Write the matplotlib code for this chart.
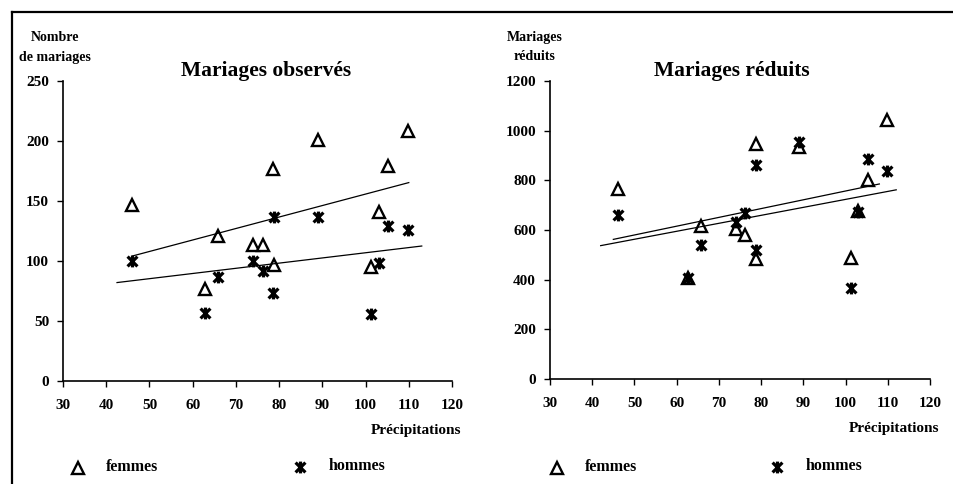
import numpy as np
import matplotlib.pyplot as plt
from matplotlib.path import Path

# Precipitation values (x) shared by both panels
precip = [46, 62.8, 65.8, 74, 76.3, 78.7, 78.8, 89, 101.3, 103, 105.2, 109.8]

# Observed marriages
obs_femmes = [147, 77, 121, 113, 113, 177, 97, 201, 95, 141, 179, 208]
obs_hommes = [100, 57, 87, 100, 92, 73, 137, 137, 56, 98, 129, 126]

# Reduced marriages
red_femmes = [765, 405, 616, 605, 580, 946, 485, 935, 487, 675, 801, 1043]
red_hommes = [660, 407, 540, 633, 670, 860, 520, 955, 366, 673, 885, 838]

x_ticks = [30, 40, 50, 60, 70, 80, 90, 100, 110, 120]
x_tick_labels = ['30', '40', '50', '60', '70', '80', '90', '100', '110', '120']

SERIF = 'Liberation Serif'
W, H = 954, 484

# star marker: an X with a vertical bar
star = Path([(-1, -1), (1, 1), (-1, 1), (1, -1), (0, -1.2), (0, 1.2)],
            [Path.MOVETO, Path.LINETO, Path.MOVETO, Path.LINETO, Path.MOVETO, Path.LINETO])

fig = plt.figure(figsize=(9.54, 4.84), dpi=100)

# outer frame (top and left edges)
fig.add_artist(plt.Line2D([12 / W, 1], [1 - 12 / H, 1 - 12 / H], color='black', lw=1.6))
fig.add_artist(plt.Line2D([12 / W, 12 / W], [0, 1 - 12 / H], color='black', lw=1.6))


def panel(rect, fem, hom, ylim, yticks, title, title_x, ylabel, ylabel_x,
          fem_range, hom_range, legend_x):
    ax = fig.add_axes(rect)
    ax.plot(precip, fem, linestyle='none', marker='^', markersize=8,
            markerfacecolor='white', markeredgecolor='black', markeredgewidth=1.7)
    ax.plot(precip, hom, linestyle='none', marker=star, markersize=8.5,
            color='black', markeredgewidth=2.3)

    # linear trend lines
    for vals, xr in ((fem, fem_range), (hom, hom_range)):
        a, b = np.polyfit(precip, vals, 1)
        xs = np.array(xr)
        ax.plot(xs, a * xs + b, color='black', lw=0.9)

    ax.set_xlim(30, 120)
    ax.set_ylim(*ylim)
    ax.set_xticks(x_ticks)
    ax.set_xticklabels(x_tick_labels)
    ax.set_yticks(yticks)
    ax.set_yticklabels([str(v) for v in yticks])
    for s in ('top', 'right'):
        ax.spines[s].set_visible(False)
    for s in ('left', 'bottom'):
        ax.spines[s].set_linewidth(1.2)
    ax.tick_params(direction='out', length=4, width=1, pad=6)
    ax.tick_params(axis='x', pad=9)
    for lab in ax.get_xticklabels() + ax.get_yticklabels():
        lab.set_fontfamily(SERIF)
        lab.set_fontweight('bold')
        lab.set_fontsize(11)

    ax.set_title(title, x=title_x, fontfamily=SERIF, fontweight='bold', fontsize=15.5, pad=3)
    fig.text(ylabel_x / W, 1 - 31 / H, ylabel, ha='center', va='top',
             fontfamily=SERIF, fontweight='bold', fontsize=10, linespacing=1.65)
    ax.text(1.025, -0.165, 'Précipitations', transform=ax.transAxes, ha='right', va='center',
            fontfamily=SERIF, fontweight='bold', fontsize=11)

    # legend row under the panel
    lx0, lx1 = legend_x
    fig.add_artist(plt.Line2D([lx0 / W], [1 - 468 / H], linestyle='none', marker='^',
                              markersize=8, markerfacecolor='white', markeredgecolor='black',
                              markeredgewidth=1.7))
    fig.text((lx0 + 28) / W, 1 - 467 / H, 'femmes', ha='left', va='center',
             fontfamily=SERIF, fontweight='bold', fontsize=11.5)
    fig.add_artist(plt.Line2D([lx1 / W], [1 - 467 / H], linestyle='none', marker=star,
                              markersize=8.5, color='black', markeredgewidth=2.3))
    fig.text((lx1 + 29) / W, 1 - 466 / H, 'hommes', ha='left', va='center',
             fontfamily=SERIF, fontweight='bold', fontsize=11.5)
    return ax


panel([63 / W, 103 / H, 389 / W, 300 / H], obs_femmes, obs_hommes,
      (0, 250), [0, 50, 100, 150, 200, 250], 'Mariages observés', 0.522,
      'Nombre\nde mariages', 55, (46, 110), (42.5, 113), (78, 300))

panel([550 / W, 105 / H, 380 / W, 298 / H], red_femmes, red_hommes,
      (0, 1200), [0, 200, 400, 600, 800, 1000, 1200], 'Mariages réduits', 0.479,
      'Mariages\nréduits', 535, (45, 108), (42, 112), (557, 777))

fig.savefig('out.png', dpi=100)
